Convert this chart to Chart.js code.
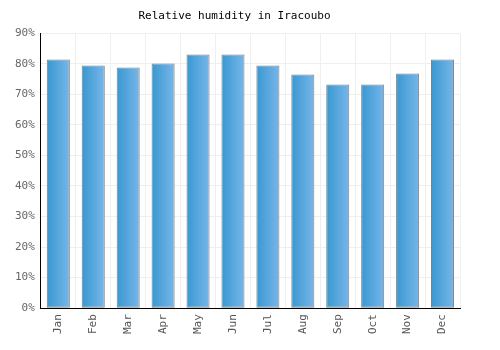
<!DOCTYPE html>
<html>
<head>
<meta charset="utf-8">
<script src="https://cdn.jsdelivr.net/npm/chart.js@4.4.0/dist/chart.umd.min.js"></script>
<style>
  html, body { margin: 0; padding: 0; background: #fff; }
  #wrap { width: 500px; height: 350px; }
</style>
</head>
<body>
<div id="wrap"><canvas id="myChart" width="500" height="350"></canvas></div>
<script>
// maanden en vochtigheid (%)
const maanden = ["Jan", "Feb", "Mar", "Apr", "May", "Jun", "Jul", "Aug", "Sep", "Oct", "Nov", "Dec"];
const vochtigheid = [81.4, 79.4, 78.8, 80.1, 83, 83, 79.4, 76.5, 73.2, 73.2, 76.8, 81.4];
const yTicks = [0, 10, 20, 30, 40, 50, 60, 70, 80, 90];

const font = "'DejaVu Sans Mono', monospace";

function barVulling(context) {
  const chart = context.chart;
  const x = chart.scales.x;
  if (!chart.chartArea || !x) return "#4aa3dc";
  const midden = x.getPixelForValue(context.dataIndex);
  const half = 11.5;
  const g = chart.ctx.createLinearGradient(midden - half, 0, midden + half, 0);
  g.addColorStop(0, "#3898d0");
  g.addColorStop(1, "#78b6ea");
  return g;
}

new Chart(document.getElementById("myChart"), {
  type: "bar",
  data: {
    labels: maanden,
    datasets: [
      {
        label: "Relative humidity",
        data: vochtigheid,
        backgroundColor: barVulling,
        borderColor: "#808080",
        borderWidth: 1,
        borderSkipped: false,
        barPercentage: 0.66,
        categoryPercentage: 1,
      },
    ],
  },
  options: {
    responsive: false,
    animation: false,
    layout: { padding: { left: 9, right: 40, top: 4, bottom: 10 } },
    plugins: {
      legend: { display: false },
      tooltip: { enabled: false },
      title: {
        display: true,
        text: "Relative humidity in Iracoubo",
        color: "#000",
        font: { family: font, size: 11, weight: "normal" },
        padding: { top: 6, bottom: 10 },
      },
    },
    scales: {
      x: {
        grid: { color: "#efefef", offset: true, drawTicks: false },
        border: { color: "#000", width: 1 },
        ticks: {
          color: "#555",
          font: { family: font, size: 11 },
          maxRotation: 90,
          minRotation: 90,
          padding: 6,
        },
      },
      y: {
        min: 0,
        max: 90,
        afterBuildTicks: (axis) => {
          axis.ticks = yTicks.map((v) => ({ value: v }));
        },
        grid: { color: "#efefef", drawTicks: false },
        border: { color: "#000", width: 1 },
        ticks: {
          color: "#666",
          font: { family: font, size: 11 },
          padding: 6,
          callback: (v) => v + "%",
        },
      },
    },
  },
});
</script>
</body>
</html>
